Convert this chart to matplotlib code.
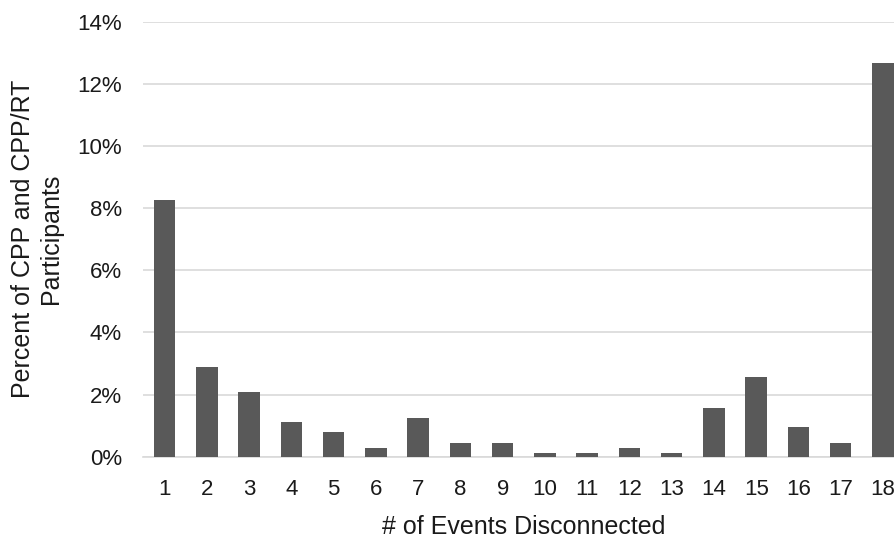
import matplotlib

matplotlib.use("Agg")
import matplotlib.pyplot as plt
import matplotlib.ticker as mticker

# Data
events = list(range(1, 19))
percent = [8.26, 2.90, 2.07, 1.11, 0.79, 0.29, 1.24, 0.45, 0.45,
           0.12, 0.12, 0.29, 0.12, 1.57, 2.55, 0.95, 0.45, 12.66]
y_ticks = [0, 2, 4, 6, 8, 10, 12, 14]

c_bar = "#595959"
c_grid = "#d9d9d9"
c_text = "#1a1a1a"

plt.rcParams["font.family"] = ["Liberation Sans", "DejaVu Sans"]

fig = plt.figure(figsize=(8.94, 5.38), dpi=100)
# axes runs slightly past the right edge, as in the original
ax = fig.add_axes([0.1605, 0.1511, 0.8508, 0.8086])

ax.bar(events, percent, width=0.51, color=c_bar, zorder=3)

ax.set_xlim(0.5, 18.5)
ax.set_ylim(0, 14)
ax.set_xticks(events)
ax.set_yticks(y_ticks)
ax.yaxis.set_major_formatter(mticker.FuncFormatter(lambda v, _: f"{v:.0f}%"))

ax.grid(axis="y", color=c_grid, linewidth=1.2, zorder=0)
for side in ["top", "right", "left"]:
    ax.spines[side].set_visible(False)
ax.spines["bottom"].set_color(c_grid)
ax.spines["bottom"].set_linewidth(1.2)

ax.tick_params(axis="both", length=0, labelsize=16, colors=c_text)
ax.tick_params(axis="x", pad=16)
ax.tick_params(axis="y", pad=15.5)

ax.set_xlabel("# of Events Disconnected", fontsize=18, color=c_text, labelpad=11)
ax.set_ylabel("Percent of CPP and CPP/RT\nParticipants", fontsize=18,
              color=c_text, labelpad=10.5, linespacing=1.2)

fig.savefig("out.png", dpi=100, facecolor="white")
